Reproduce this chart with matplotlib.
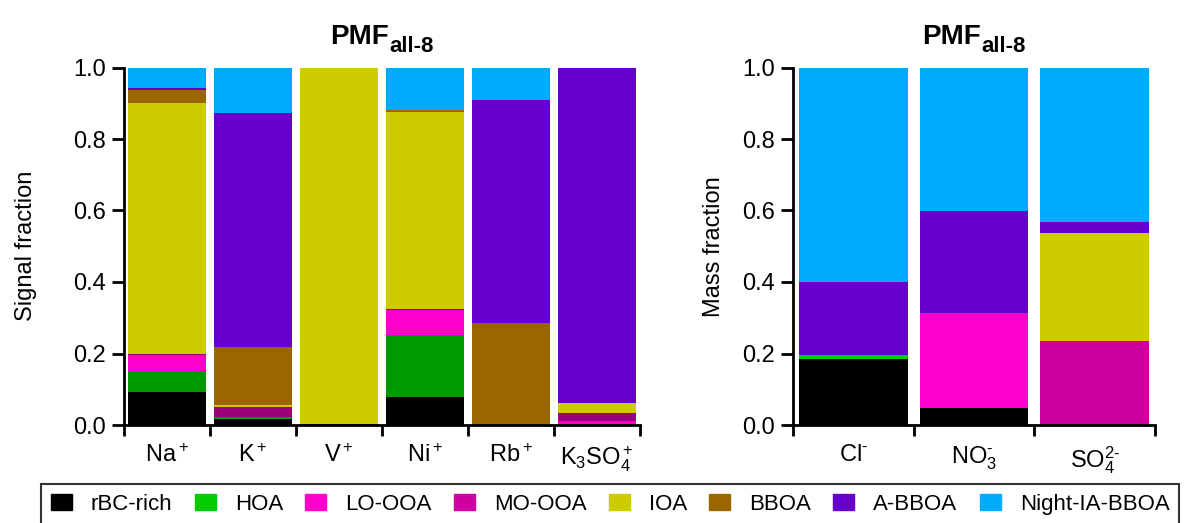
import matplotlib
matplotlib.use("Agg")
import matplotlib.pyplot as plt
import matplotlib.transforms as mtransforms
import numpy as np

plt.rcParams["font.family"] = ["Liberation Sans", "DejaVu Sans"]
plt.rcParams["mathtext.fontset"] = "custom"
plt.rcParams["mathtext.rm"] = "Liberation Sans"
plt.rcParams["mathtext.it"] = "Liberation Sans"
plt.rcParams["mathtext.bf"] = "Liberation Sans:bold"

components = ["rBC-rich", "HOA", "LO-OOA", "MO-OOA", "IOA", "BBOA", "A-BBOA", "Night-IA-BBOA"]

# signal fractions of the metal ions
ions_signal = ["Na$^+$", "K$^+$", "V$^+$", "Ni$^+$", "Rb$^+$", "K$_3$SO$_4^+$"]
rbc_sig = [0.092, 0.017, 0.004, 0.079, 0.0, 0.0]
hoa_sig = [0.060, 0.005, 0.0, 0.172, 0.0, 0.004]
lo_sig = [0.045, 0.0, 0.0, 0.071, 0.0, 0.008]
mo_sig = [0.003, 0.027, 0.0, 0.002, 0.0, 0.021]
ioa_sig = [0.701, 0.006, 0.996, 0.552, 0.0, 0.028]
bboa_sig = [0.035, 0.164, 0.0, 0.004, 0.285, 0.0]
abboa_sig = [0.006, 0.653, 0.0, 0.0, 0.623, 0.939]
night_sig = [0.058, 0.128, 0.0, 0.120, 0.092, 0.0]

# mass fractions of the inorganic ions
ions_mass = [r"Cl$^{\text{-}}$", r"NO$_3^{\text{-}}$", r"SO$_4^{\text{2-}}$"]
rbc_mass = [0.185, 0.047, 0.0]
hoa_mass = [0.012, 0.0, 0.0]
lo_mass = [0.0, 0.265, 0.0]
mo_mass = [0.0, 0.0, 0.235]
ioa_mass = [0.0, 0.0, 0.301]
bboa_mass = [0.0, 0.0, 0.0]
abboa_mass = [0.202, 0.286, 0.033]
night_mass = [0.601, 0.402, 0.431]

colors = ["#000000", "#00cc00", "#ff00cc", "#cc00a0", "#cccc00", "#996600", "#6600cc", "#00aaff"]
colors_sig = ["#000000", "#009900", "#ff00cc", "#99007a", "#cccc00", "#996600", "#6600cc", "#00aaff"]

signal = [rbc_sig, hoa_sig, lo_sig, mo_sig, ioa_sig, bboa_sig, abboa_sig, night_sig]
mass = [rbc_mass, hoa_mass, lo_mass, mo_mass, ioa_mass, bboa_mass, abboa_mass, night_mass]

W, H = 1187, 523
fig = plt.figure(figsize=(W / 100, H / 100), dpi=100)
ax1 = fig.add_axes([124 / W, 1 - 425 / H, 516 / W, 357.5 / H])
ax2 = fig.add_axes([793 / W, 1 - 425 / H, 362 / W, 357.5 / H])


def stacked(ax, labels, data, cols, ylabel, labelpad):
    x = np.arange(len(labels))
    bottom = np.zeros(len(labels))
    for vals, c, name in zip(data, cols, components):
        vals = np.array(vals)
        ax.bar(x, vals, 0.9, bottom=bottom, color=c, linewidth=0, label=name)
        bottom += vals
    ax.set_xlim(-0.5, len(labels) - 0.5)
    ax.set_ylim(0, 1)
    ax.set_yticks(np.arange(0, 1.01, 0.2))
    ax.set_yticklabels([f"{v:.1f}" for v in np.arange(0, 1.01, 0.2)])
    # boundary ticks without labels, names centred under the bars
    ax.set_xticks(np.arange(-0.5, len(labels)), [""] * (len(labels) + 1))
    ax.set_xticks(x, labels, minor=True)
    ax.tick_params(axis="x", which="minor", length=0, pad=14, labelsize=17)
    ax.tick_params(axis="x", which="major", length=8, width=2, direction="out")
    ax.tick_params(axis="y", length=9, width=2, labelsize=17, pad=4)
    for s in ["top", "right"]:
        ax.spines[s].set_visible(False)
    for s in ["left", "bottom"]:
        ax.spines[s].set_linewidth(2)
    ax.set_ylabel(ylabel, fontsize=17, labelpad=labelpad)


def pmf_title(ax, main="PMF", sub="all-8"):
    # bold title with a large subscript, centred over the axes
    r = fig.canvas.get_renderer()
    t1 = ax.text(0, 0, main, fontsize=20, fontweight="bold")
    t2 = ax.text(0, 0, sub, fontsize=16, fontweight="bold")
    w1 = t1.get_window_extent(r).width
    w2 = t2.get_window_extent(r).width
    x0 = -(w1 + w2) / 2
    for t, dx, dy in [(t1, x0, 23), (t2, x0 + w1, 15)]:
        t.set_transform(mtransforms.offset_copy(ax.transAxes, fig, x=dx, y=dy, units="dots"))
        t.set_position((0.5, 1.0))
        t.set_ha("left")
        t.set_va("baseline")


stacked(ax1, ions_signal, signal, colors_sig, "Signal fraction", 26)
stacked(ax2, ions_mass, mass, colors, "Mass fraction", 12)
fig.canvas.draw()
pmf_title(ax1)
pmf_title(ax2)

handles = [plt.Rectangle((0, 0), 1, 1, color=c) for c in colors]
leg = fig.legend(handles, components, loc="upper left", bbox_to_anchor=(41 / W, 1 - 484 / H),
                 ncol=8, fontsize=16, frameon=True, fancybox=False, edgecolor="black",
                 handlelength=0.95, handleheight=0.75, handletextpad=0.85, columnspacing=1.0,
                 borderpad=0.45, borderaxespad=0)
leg.get_frame().set_linewidth(1.5)

fig.savefig("out.png", dpi=100)
